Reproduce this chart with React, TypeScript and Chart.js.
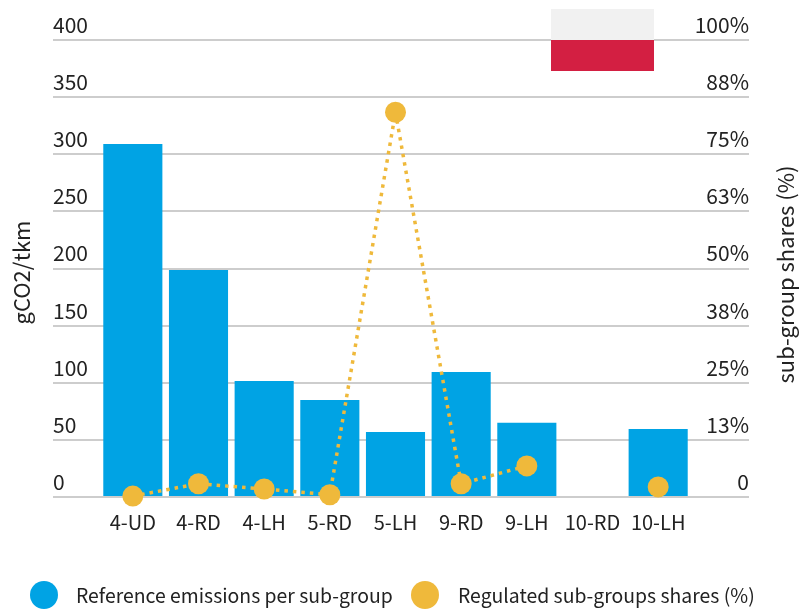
import React, { useEffect, useRef } from "react";
import { Chart, registerables } from "chart.js";

Chart.register(...registerables);

const categories = ["4-UD", "4-RD", "4-LH", "5-RD", "5-LH", "9-RD", "9-LH", "10-RD", "10-LH"];
const referenceEmissions = [309, 198.7, 101.5, 85, 57, 109.4, 65, null, 59.5];
const regulatedShares = [0.2, 2.9, 1.75, 0.5, 84.2, 2.9, 6.8, null, 2.2];
const barLabel = "Reference emissions per sub-group";
const lineLabel = "Regulated sub-groups shares (%)";
const leftTitle = "gCO2/tkm";
const rightTitle = "sub-group shares (%)";

const FONT = '"Noto Sans CJK SC", "Noto Sans", sans-serif';
const BLUE = "#00A3E4";
const YELLOW = "#EFB93B";
const TEXT = "#222222";
const GRID = "#CDCDCD";

const axisTitles = {
  id: "axisTitles",
  afterDraw(chart: any) {
    const { ctx, chartArea } = chart;
    const mid = (chartArea.top + chartArea.bottom) / 2;
    const put = (text: string, x: number, y: number) => {
      ctx.save();
      ctx.translate(x, y);
      ctx.rotate(-Math.PI / 2);
      ctx.font = `22px ${FONT}`;
      ctx.fillStyle = TEXT;
      ctx.textAlign = "center";
      ctx.textBaseline = "middle";
      ctx.fillText(text, 0, 0);
      ctx.restore();
    };
    put(leftTitle, 22, mid + 4);
    put(rightTitle, 786, mid + 6);
  },
};

export default function App() {
  const ref = useRef<HTMLCanvasElement>(null);
  useEffect(() => {
    const chart = new Chart(ref.current!, {
      data: {
        labels: categories,
        datasets: [
          {
            type: "line",
            label: lineLabel,
            data: regulatedShares,
            yAxisID: "y2",
            borderColor: YELLOW,
            backgroundColor: YELLOW,
            borderWidth: 3.5,
            borderDash: [3.5, 5],
            pointRadius: 10.5,
            pointBorderWidth: 0,
            tension: 0,
            spanGaps: false,
            clip: false,
            order: 1,
          },
          {
            type: "bar",
            label: barLabel,
            data: referenceEmissions,
            yAxisID: "y",
            backgroundColor: BLUE,
            categoryPercentage: 1,
            barPercentage: 0.9,
            order: 2,
          },
        ],
      },
      options: {
        responsive: false,
        animation: false,
        layout: { padding: { top: 40, bottom: 0 } },
        plugins: { legend: { display: false }, tooltip: { enabled: false } },
        scales: {
          x: {
            grid: { display: false },
            border: { display: false },
            ticks: { color: TEXT, font: { family: FONT, size: 20 }, padding: 5, maxRotation: 0, autoSkip: false },
            afterFit: (s: any) => { s.height = 115; s.paddingTop = 0; s.paddingBottom = 0; },
          },
          y: {
            position: "left",
            min: 0,
            max: 400,
            ticks: { stepSize: 50, color: TEXT, mirror: true, padding: -47, labelOffset: -15, font: { family: FONT, size: 21 } },
            grid: { color: GRID, lineWidth: 2, tickLength: 47, tickColor: GRID, tickWidth: 2 },
            border: { display: false },
            afterFit: (s: any) => { s.width = 100; s.paddingTop = 0; s.paddingBottom = 0; },
          },
          y2: {
            position: "right",
            min: 0,
            max: 100,
            ticks: {
              stepSize: 12.5,
              color: TEXT,
              mirror: true,
              padding: 58,
              labelOffset: -15,
              font: { family: FONT, size: 21 },
              callback: (v: any) => (v === 0 ? "0" : Math.round(v) + "%"),
            },
            grid: { color: GRID, lineWidth: 2, drawOnChartArea: false, tickLength: 58, tickColor: GRID, tickWidth: 2 },
            border: { display: false },
            afterFit: (s: any) => { s.width = 109; s.paddingTop = 0; s.paddingBottom = 0; },
          },
        },
      } as any,
      plugins: [axisTitles],
    });
    return () => chart.destroy();
  }, []);

  const legendText: React.CSSProperties = {
    position: "absolute", top: 594, transform: "translateY(-50%)", font: `19.4px ${FONT}`, color: TEXT, whiteSpace: "nowrap",
  };
  const dot = (left: number, color: string): React.CSSProperties => ({
    position: "absolute", left, top: 581, width: 28, height: 28, borderRadius: "50%", background: color,
  });

  return (
    <div style={{ position: "fixed", left: 0, top: 0, width: 800, height: 612, background: "#fff", overflow: "hidden" }}>
      <canvas ref={ref} width={800} height={612} style={{ display: "block" }} />
      <div style={{ position: "absolute", left: 551, top: 9, width: 103, height: 31, background: "#F1F1F1" }} />
      <div style={{ position: "absolute", left: 551, top: 40, width: 103, height: 31, background: "#D31F42" }} />
      <div style={dot(30, BLUE)} />
      <div style={{ ...legendText, left: 76 }}>{barLabel}</div>
      <div style={dot(411, YELLOW)} />
      <div style={{ ...legendText, left: 458 }}>{lineLabel}</div>
    </div>
  );
}
